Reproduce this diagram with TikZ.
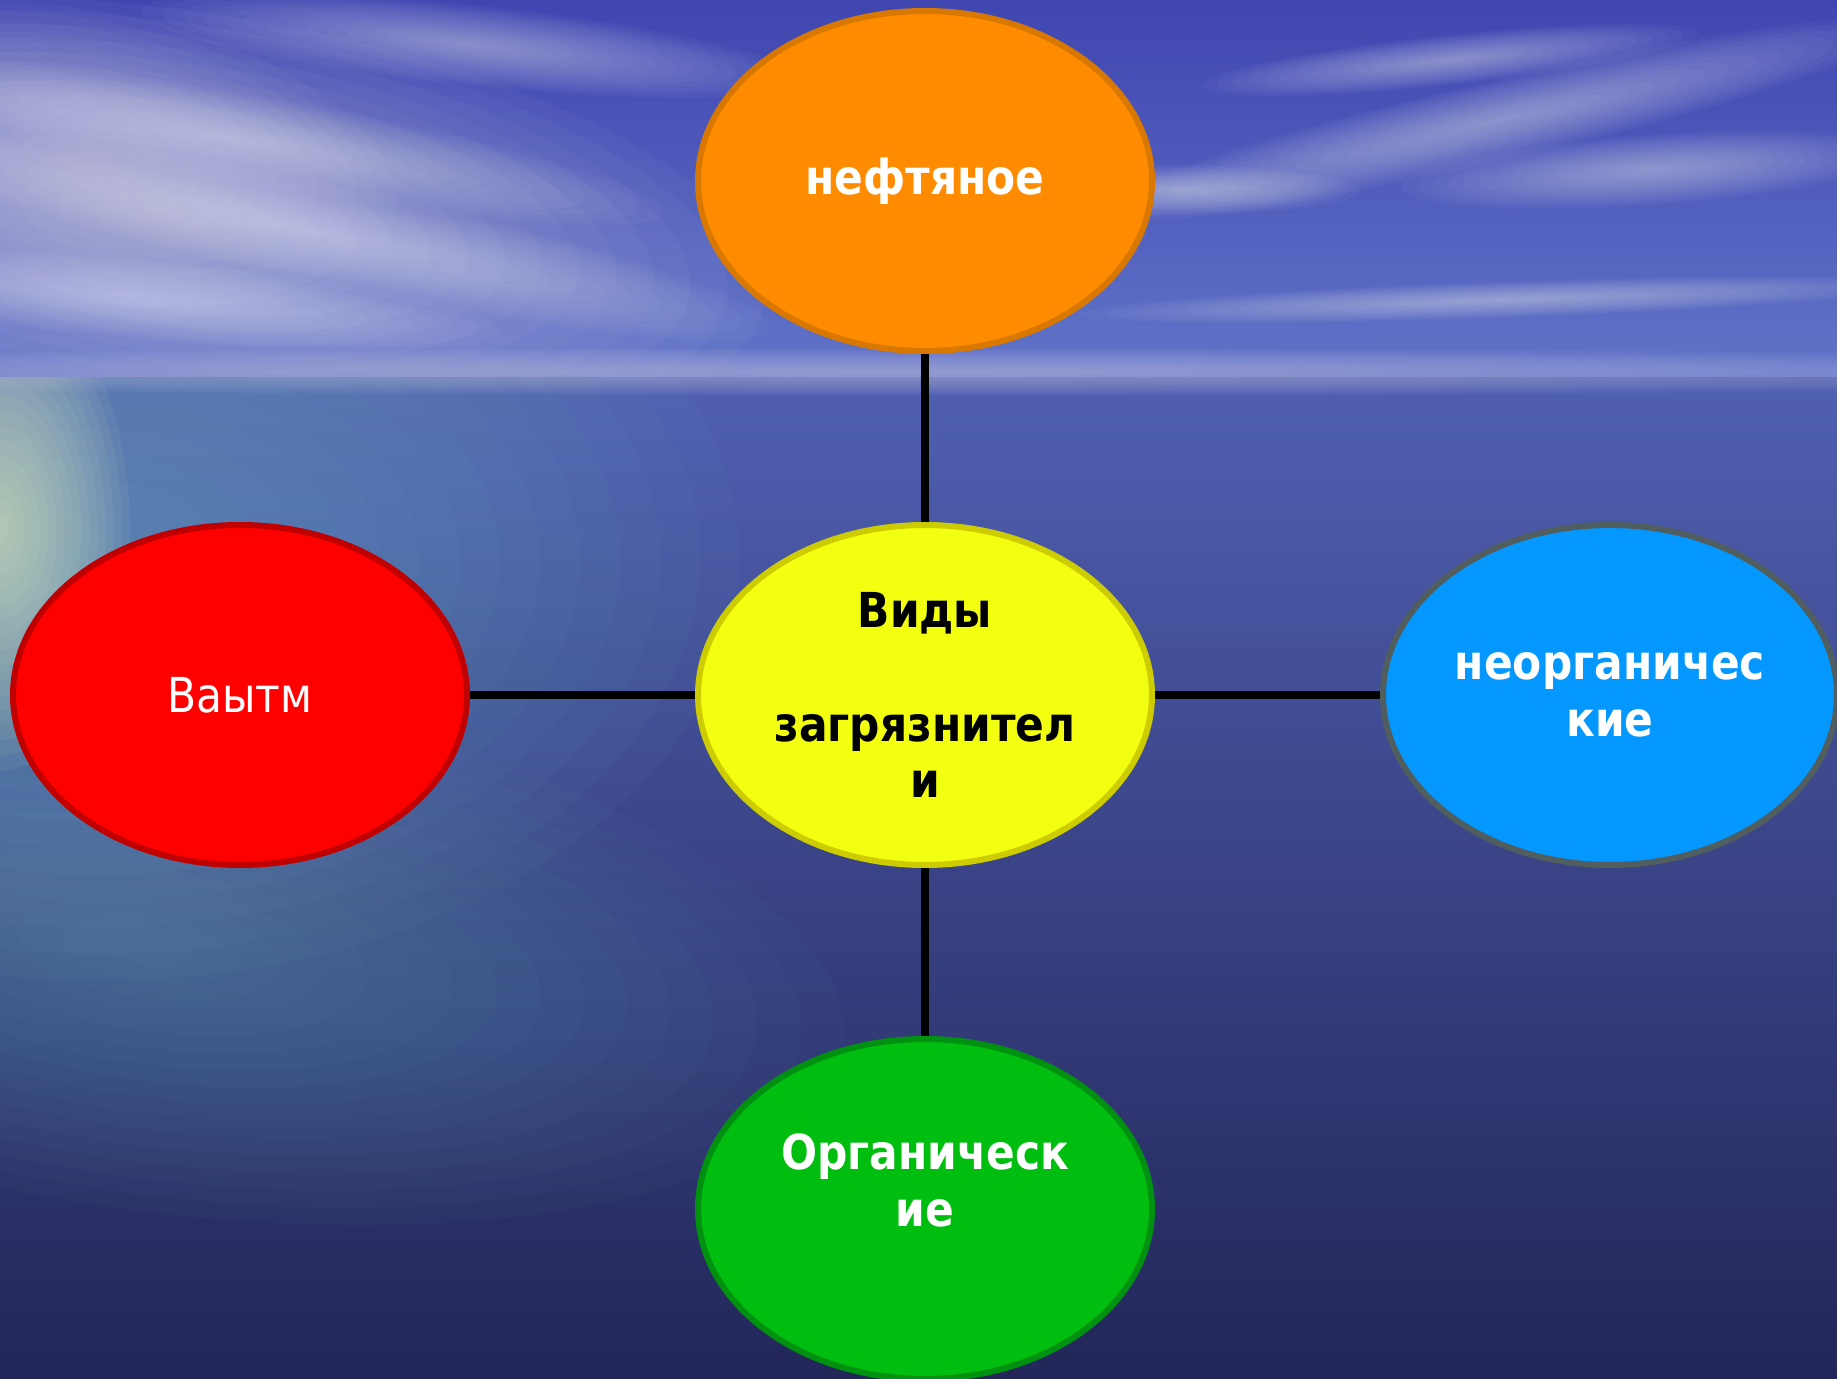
\documentclass[tikz,border=0pt]{standalone}
\usepackage{fontspec}
\setmainfont{DejaVu Sans}[FakeStretch=0.88]
\usetikzlibrary{shapes.geometric,positioning}

\definecolor{skytop}{RGB}{64,70,176}
\definecolor{skylow}{RGB}{96,116,200}
\definecolor{haze}{RGB}{214,210,232}
\definecolor{seatop}{RGB}{80,96,178}
\definecolor{seamid}{RGB}{44,68,150}
\definecolor{seabot}{RGB}{34,38,88}
\definecolor{glow}{RGB}{236,250,196}
\definecolor{seateal}{RGB}{112,180,198}
\definecolor{oilfill}{RGB}{255,140,0}
\definecolor{oilline}{RGB}{217,120,0}
\definecolor{redfill}{RGB}{255,0,0}
\definecolor{redline}{RGB}{192,0,0}
\definecolor{yelfill}{RGB}{242,255,16}
\definecolor{yelline}{RGB}{204,204,0}
\definecolor{bluefill}{RGB}{4,152,255}
\definecolor{blueline}{RGB}{80,94,96}
\definecolor{grnfill}{RGB}{0,190,16}
\definecolor{grnline}{RGB}{0,145,16}

% soft patch: colour, opacity, x, y, x radius, y radius, angle
\newcommand{\hazeblob}[7]{%
	\foreach \k in {1,...,16}{
		\fill[#1,fill opacity=#2,rotate around={#7:(#3,#4)}]
			(#3,#4) ellipse [x radius=#5/16*\k,y radius=#6/16*\k];
	}%
}

\begin{document}
\begin{tikzpicture}
		[x=0.1mm,y=-0.1mm,node distance=5.14cm and 6.85cm,on grid,
		blob/.style={ellipse,draw,line width=0.6mm,minimum width=4.54cm,minimum height=3.4cm,
			inner sep=0pt,align=center,text=white,font=\fontsize{13.7pt}{16.2pt}\selectfont\bfseries},
		link/.style={line width=0.8mm,black}]
		\useasboundingbox (0,0) rectangle (1837,1379);
		% sky
		\begin{scope}
		\clip (0,0) rectangle (1837,378);
		\fill[top color=skytop,bottom color=skylow] (0,0) rectangle (1837,378);
		\hazeblob{haze}{.045}{170}{220}{600}{210}{-8}
		\hazeblob{haze}{.04}{80}{160}{320}{150}{-10}
		\foreach \cx/\cy/\rx/\ry/\ang in {470/45/330/40/-6,250/140/420/45/-10,330/235/450/50/-12,
			150/300/350/40/-5,1500/120/420/40/13,1650/170/250/35/4,1450/60/250/25/6,1180/190/180/25/0,
			1500/300/420/18/2}{
			\hazeblob{white}{.03}{\cx}{\cy}{\rx}{\ry}{\ang}
		}
		\end{scope}
		% sea
		\begin{scope}
		\clip (0,378) rectangle (1837,1379);
		\fill[top color=seatop,middle color=seamid,bottom color=seabot] (0,378) rectangle (1837,1379);
		\hazeblob{seateal}{.045}{100}{560}{640}{420}{0}
		\hazeblob{seateal}{.03}{150}{950}{700}{260}{-8}
		\hazeblob{glow}{.06}{0}{530}{130}{240}{0}
		\end{scope}
		\hazeblob{haze}{.04}{918}{372}{1500}{24}{0}
		
		\node[blob,fill=yelfill,draw=yelline,text=black] (types) at (925,695) {Виды\\~\\загрязнител\\и};
		\node[blob,fill=oilfill,draw=oilline] (oil) [above=of types] {нефтяное};
		\node[blob,fill=redfill,draw=redline,font=\fontsize{13.7pt}{16.2pt}\selectfont] (home) [left=of types] {Ваытм};
		\node[blob,fill=bluefill,draw=blueline] (inorg) [right=of types] {неорганичес\\кие};
		\node[blob,fill=grnfill,draw=grnline] (org) [below=of types] {Органическ\\ие\\~};
		\draw[link]
		(types) edge (oil)
				edge (home)
				edge (inorg)
				edge (org)
		;
\end{tikzpicture}
\end{document}
